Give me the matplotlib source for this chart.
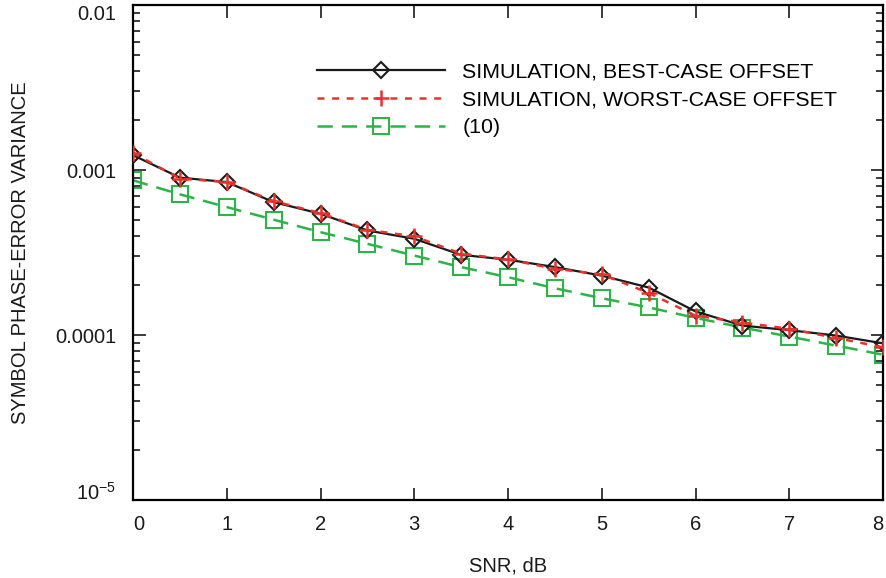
import matplotlib
matplotlib.use("Agg")
import matplotlib.pyplot as plt
from matplotlib.ticker import FixedLocator, FixedFormatter, LogLocator, NullFormatter

plt.rcParams['font.family'] = ['Liberation Sans', 'DejaVu Sans']
plt.rcParams['lines.scale_dashes'] = False

snr = [0, 0.5, 1, 1.5, 2, 2.5, 3, 3.5, 4, 4.5, 5, 5.5, 6, 6.5, 7, 7.5, 8]

best = [1.23e-3, 8.99e-4, 8.45e-4, 6.39e-4, 5.43e-4, 4.30e-4, 3.83e-4, 3.06e-4,
        2.86e-4, 2.58e-4, 2.29e-4, 1.94e-4, 1.39e-4, 1.14e-4, 1.07e-4, 9.92e-5, 8.90e-5]
worst = [1.27e-3, 8.87e-4, 8.45e-4, 6.48e-4, 5.48e-4, 4.34e-4, 3.96e-4, 3.11e-4,
         2.87e-4, 2.52e-4, 2.33e-4, 1.80e-4, 1.31e-4, 1.19e-4, 1.09e-4, 9.60e-5, 8.42e-5]
theory = [8.66e-4, 7.12e-4, 5.96e-4, 5.00e-4, 4.20e-4, 3.57e-4, 3.03e-4, 2.58e-4,
          2.24e-4, 1.92e-4, 1.67e-4, 1.47e-4, 1.27e-4, 1.11e-4, 9.78e-5, 8.62e-5, 7.60e-5]

labels = ["SIMULATION, BEST-CASE OFFSET", "SIMULATION, WORST-CASE OFFSET", "(10)"]
ytick_vals = [1e-5, 1e-4, 1e-3, 1e-2]
ytick_labels = [r"10$^{\mathregular{-5}}$", "0.0001", "0.001", "0.01"]

red = "#e8322b"
green = "#2db34a"

fig = plt.figure(figsize=(8.86, 5.78), dpi=100)
ax = fig.add_axes([133 / 886, 1 - 500 / 578, 750 / 886, 495 / 578])

ax.plot(snr, theory, color=green, lw=1.8, dashes=(11, 6.5), marker="s", ms=12,
        mfc="none", mec=green, mew=1.5, label=labels[2], zorder=2)
ax.plot(snr, best, color="#1a1a1a", lw=1.6, marker="D", ms=8.5,
        mfc="none", mec="#1a1a1a", mew=1.5, label=labels[0], zorder=3)
ax.plot(snr, worst, color=red, lw=1.8, dashes=(5, 5.5), marker="+", ms=12,
        mec=red, mew=1.8, label=labels[1], zorder=4)

ax.set_yscale("log")
ax.set_xlim(0, 8)
ax.set_ylim(1e-5, 1e-2)
ax.xaxis.set_major_locator(FixedLocator(range(9)))
ax.yaxis.set_major_locator(FixedLocator(ytick_vals))
ax.yaxis.set_major_formatter(FixedFormatter(ytick_labels))
ax.yaxis.set_minor_locator(LogLocator(base=10, subs=range(2, 10)))
ax.yaxis.set_minor_formatter(NullFormatter())

ax.tick_params(which="both", direction="in", top=True, right=True, width=1.2,
               labelsize=14.5, colors="#1a1a1a")
ax.tick_params(axis="x", which="major", length=9, pad=11)
ax.tick_params(axis="y", which="major", length=9, pad=12)
ax.tick_params(axis="y", which="minor", length=5)
for s in ax.spines.values():
    s.set_linewidth(1.6)

# keep the end labels inside the figure like the original
xt = ax.get_xticklabels()
xt[0].set_horizontalalignment("left")
xt[-1].set_horizontalalignment("right")
yt = ax.get_yticklabels()
yt[0].set_verticalalignment("baseline")
yt[-1].set_verticalalignment("top")

ax.set_xlabel("SNR, dB", fontsize=14.5, labelpad=16, color="#1a1a1a")
ax.set_ylabel("SYMBOL PHASE-ERROR VARIANCE", fontsize=14.5, labelpad=18, color="#1a1a1a")

h, l = ax.get_legend_handles_labels()
order = [1, 2, 0]
ax.legend([h[i] for i in order], [l[i] for i in order], loc="upper left",
          bbox_to_anchor=(0.245, 0.884), frameon=False, fontsize=15.4,
          handlelength=6.0, handletextpad=0.8, labelspacing=0.42,
          borderpad=0, borderaxespad=0)

fig.savefig("out.png", dpi=100)
